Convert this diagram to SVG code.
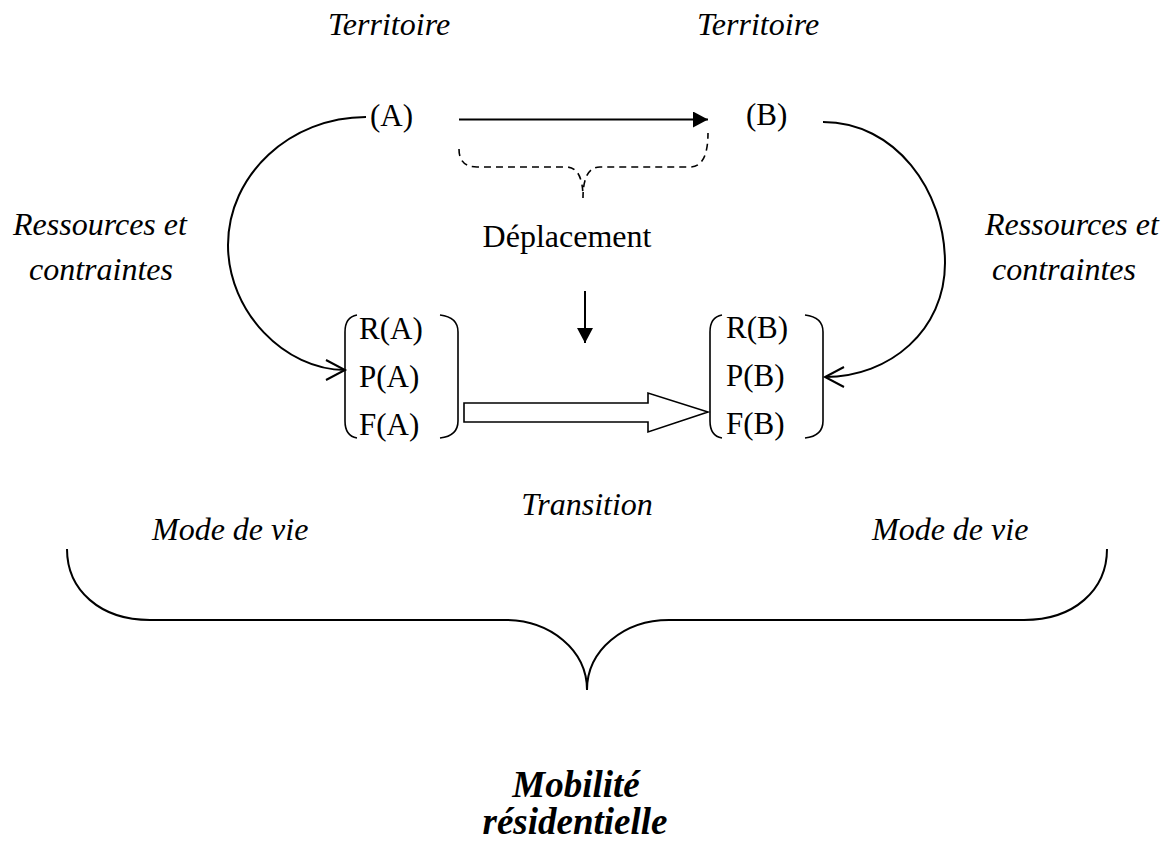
<svg xmlns="http://www.w3.org/2000/svg" width="1168" height="843" viewBox="0 0 1168 843">
<style>
  .t { font-family: "Liberation Serif", "Times New Roman", serif; fill: #000; }
  .it { font-style: italic; font-size: 32px; }
  .rm { font-size: 31px; }
  .big { font-style: italic; font-weight: bold; font-size: 37px; }
  .ln { fill: none; stroke: #000; stroke-width: 2; }
  .dash { fill: none; stroke: #000; stroke-width: 1.6; stroke-dasharray: 7 5; }
  .paren { fill: none; stroke: #000; stroke-width: 1.6; }
</style>
<defs>
  <marker id="solid" markerWidth="16" markerHeight="16" refX="15" refY="8" orient="auto" markerUnits="userSpaceOnUse">
    <path d="M0,0 L15,8 L0,16 Z" fill="#000"/>
  </marker>
  <marker id="chev" markerWidth="24" markerHeight="24" refX="20" refY="12" orient="auto" markerUnits="userSpaceOnUse">
    <path d="M1,2 L20,12 L1,22" fill="none" stroke="#000" stroke-width="2"/>
  </marker>
</defs>
<rect width="1168" height="843" fill="#fff"/>

<g id="labels">
  <text class="t it" x="328" y="35">Territoire</text>
  <text class="t it" x="697" y="35">Territoire</text>
  <text class="t it" x="13" y="235">Ressources et</text>
  <text class="t it" x="29" y="280">contraintes</text>
  <text class="t it" x="985" y="235">Ressources et</text>
  <text class="t it" x="992" y="280">contraintes</text>
  <text class="t" x="567" y="247" font-size="32" text-anchor="middle">Déplacement</text>
  <text class="t it" x="587" y="515" text-anchor="middle">Transition</text>
  <text class="t it" x="152" y="540">Mode de vie</text>
  <text class="t it" x="872" y="540">Mode de vie</text>
</g>

<g id="nodeA">
  <text class="t rm" x="370" y="126">(A)</text>
</g>
<g id="nodeB">
  <text class="t rm" x="746" y="125">(B)</text>
</g>

<g id="matrixA">
  <path class="paren" d="M357,315 Q345,317 345,332 L345,421 Q345,436 357,438"/>
  <path class="paren" d="M440,315 Q458,317 458,332 L458,421 Q458,436 440,438"/>
  <text class="t rm" x="359" y="339">R(A)</text>
  <text class="t rm" x="359" y="387">P(A)</text>
  <text class="t rm" x="359" y="435">F(A)</text>
</g>

<g id="matrixB">
  <path class="paren" d="M722,315 Q710,317 710,332 L710,421 Q710,436 722,438"/>
  <path class="paren" d="M805,315 Q823,317 823,332 L823,421 Q823,436 805,438"/>
  <text class="t rm" x="726" y="338">R(B)</text>
  <text class="t rm" x="726" y="386">P(B)</text>
  <text class="t rm" x="726" y="434">F(B)</text>
</g>

<g id="mobilite">
  <text class="t big" x="576" y="797" text-anchor="middle">Mobilité</text>
  <text class="t big" x="575" y="834" text-anchor="middle">résidentielle</text>
</g>

<g id="connectors">
  <!-- A to B displacement arrow -->
  <line class="ln" x1="459" y1="119.5" x2="708" y2="119.5" marker-end="url(#solid)"/>
  <!-- dashed brace -->
  <path class="dash" d="M459,149 Q459,167 477,167 L566,167 Q583,167 583,198 Q583,167 600,167 L690,167 Q708,167 708,133"/>
  <!-- down arrow -->
  <line class="ln" x1="585" y1="291" x2="585" y2="343" marker-end="url(#solid)"/>
  <!-- left curve A to matrix A -->
  <path class="ln" d="M366,117 C290,117 228,175 228,245 C228,312 285,370 345,370" marker-end="url(#chev)"/>
  <!-- right curve B to matrix B -->
  <path class="ln" d="M823,122 C895,122 945,190 945,263 C945,330 890,377 825,377" marker-end="url(#chev)"/>
  <!-- hollow transition arrow -->
  <path d="M464,403 L648,403 L648,393 L708,412 L648,432 L648,422 L464,422 Z" fill="#fff" stroke="#000" stroke-width="1.6"/>
  <!-- bottom brace -->
  <path class="ln" d="M67,549 C67,590 100,620 150,620 L505,620 C550,620 587,650 587,690 C587,650 624,620 669,620 L1024,620 C1074,620 1107,590 1107,549"/>
</g>
</svg>
